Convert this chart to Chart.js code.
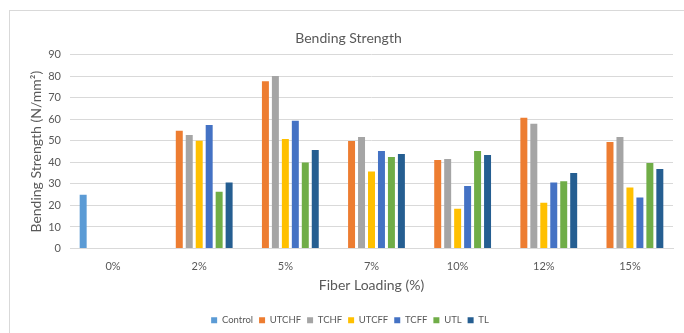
<!DOCTYPE html>
<html>
<head>
<meta charset="utf-8">
<script src="https://cdn.jsdelivr.net/npm/chart.js@4/dist/chart.umd.min.js"></script>
<style>
  html, body { margin: 0; padding: 0; background: #ffffff; }
  #wrap { position: relative; width: 684px; height: 333px; overflow: hidden; }
  #frame { position: absolute; left: 9px; top: 10px; width: 700px; height: 400px;
           border-top: 1px solid #d9d9d9; border-left: 1px solid #d9d9d9; }
  canvas { position: absolute; left: 0; top: 0; }
</style>
</head>
<body>
<div id="wrap">
  <div id="frame"></div>
  <canvas id="chart" width="684" height="333"></canvas>
</div>
<script>
// Fiber loading levels on the x axis
const categories = ['0%', '2%', '5%', '7%', '10%', '12%', '15%'];

// Bending strength (N/mm²) per composite type
const control = [25, null, null, null, null, null, null];
const utchf   = [null, 54.7, 77.7, 50.0, 41.1, 60.8, 49.5];
const tchf    = [null, 52.7, 80.2, 51.8, 41.6, 58.0, 51.8];
const utcff   = [null, 50.1, 50.9, 35.8, 18.5, 21.3, 28.4];
const tcff    = [null, 57.4, 59.4, 45.3, 29.0, 30.7, 23.7];
const utl     = [null, 26.4, 40.0, 42.5, 45.3, 31.2, 39.7];
const tl      = [null, 30.7, 45.8, 43.9, 43.4, 35.1, 36.9];

const yTicks = [0, 10, 20, 30, 40, 50, 60, 70, 80, 90];

const seriesNames  = ['Control', 'UTCHF', 'TCHF', 'UTCFF', 'TCFF', 'UTL', 'TL'];
const seriesValues = [control, utchf, tchf, utcff, tcff, utl, tl];
const seriesColors = ['#5B9BD5', '#ED7D31', '#A5A5A5', '#FFC000', '#4472C4', '#70AD47', '#255E91'];

const FONT = 'Lato, "Open Sans", sans-serif';
const TEXT = '#595959';
const GRID = '#d9d9d9';

const datasets = seriesNames.map((name, i) => ({
  label: name,
  data: seriesValues[i],
  backgroundColor: seriesColors[i],
  borderWidth: 0,
  categoryPercentage: 0.81,
  barPercentage: 0.7
}));

// Center the title and legend over the framed box rather than the padded canvas
const centerBlocks = {
  id: 'centerBlocks',
  afterLayout(chart) {
    if (chart.titleBlock) {
      chart.titleBlock.left = 9;
      chart.titleBlock.right = 688;
    }
    if (chart.legend) {
      chart.legend.left = 9;
      chart.legend.right = 691;
    }
  }
};

new Chart(document.getElementById('chart'), {
  type: 'bar',
  data: { labels: categories, datasets },
  plugins: [centerBlocks],
  options: {
    responsive: false,
    animation: false,
    layout: { padding: { left: 0, right: 11, top: 0, bottom: -2 } },
    plugins: {
      title: {
        display: true,
        text: 'Bending Strength',
        color: TEXT,
        font: { family: FONT, size: 14, weight: 'normal' },
        padding: { top: 30, bottom: 8 }
      },
      legend: {
        position: 'bottom',
        labels: {
          color: TEXT,
          font: { family: FONT, size: 9.5 },
          boxWidth: 6,
          boxHeight: 6,
          padding: 6
        }
      },
      tooltip: { enabled: false }
    },
    scales: {
      x: {
        grid: { display: false, drawTicks: false },
        border: { display: true, color: GRID },
        ticks: { color: TEXT, font: { family: FONT, size: 11 }, padding: 11 },
        title: {
          display: true,
          text: 'Fiber Loading (%)',
          color: TEXT,
          font: { family: FONT, size: 14 },
          padding: { top: 0, bottom: 16 }
        },
        afterFit: (scale) => { scale.height = 61; }
      },
      y: {
        min: 0,
        max: 90,
        afterBuildTicks: (scale) => { scale.ticks = yTicks.map(v => ({ value: v })); },
        grid: { color: GRID, drawTicks: false },
        border: { display: false },
        ticks: { color: TEXT, font: { family: FONT, size: 11 }, padding: 9 },
        title: {
          display: true,
          text: 'Bending Strength (N/mm²)',
          color: TEXT,
          font: { family: FONT, size: 14 },
          padding: { top: 28, bottom: 0 }
        },
        afterFit: (scale) => { scale.width = 70; }
      }
    }
  }
});
</script>
</body>
</html>
